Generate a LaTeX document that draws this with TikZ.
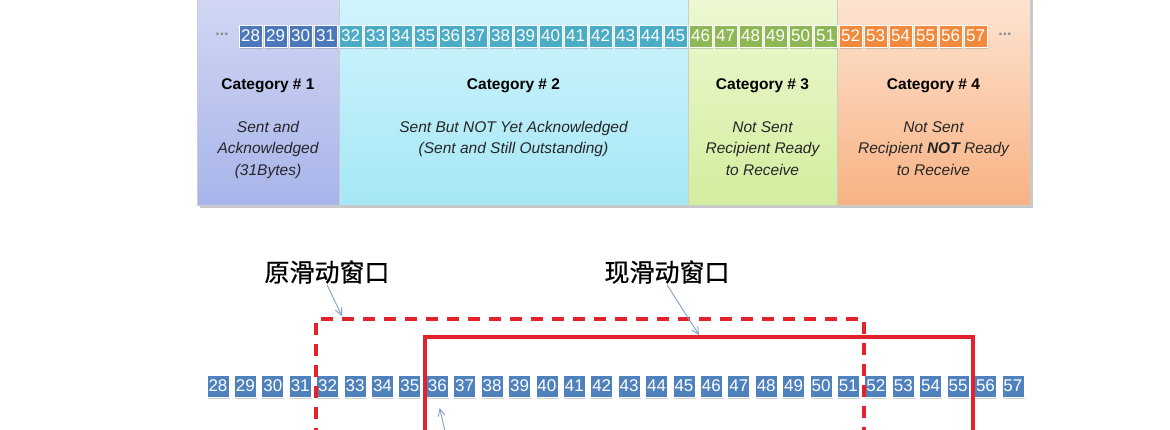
\documentclass[tikz,border=0pt]{standalone}
\usepackage{fontspec}
\setmainfont{Liberation Sans}
\newfontfamily\cjk[FakeBold=0.7]{Noto Sans CJK SC}
\usetikzlibrary{shadows,arrows.meta}

\definecolor{segA}{HTML}{4A78BA}
\definecolor{segB}{HTML}{4BACC6}
\definecolor{segC}{HTML}{8DB853}
\definecolor{segD}{HTML}{F28A3E}
\definecolor{segBottom}{HTML}{4F81BD}
\definecolor{winred}{HTML}{E3222B}
\definecolor{pointer}{HTML}{809FCF}
\definecolor{bandAtop}{HTML}{D3D8F4}
\definecolor{bandAbot}{HTML}{A8B4EA}
\definecolor{bandBtop}{HTML}{D2F5FC}
\definecolor{bandBbot}{HTML}{A6E7F6}
\definecolor{bandCtop}{HTML}{EEF9D4}
\definecolor{bandCbot}{HTML}{D3ED9E}
\definecolor{bandDtop}{HTML}{FDE6D5}
\definecolor{bandDbot}{HTML}{F8B283}

\tikzset{
  seg/.style={minimum width=23pt, minimum height=22pt, inner sep=0pt,
    draw=white, line width=0.8pt, text=white,
    font=\fontsize{17}{17}\selectfont,
    drop shadow={shadow xshift=0.6pt, shadow yshift=-2pt, opacity=0.35}},
  band/.style={draw=black!20, line width=0.5pt},
  catlabel/.style={font=\bfseries\fontsize{15.5}{16}\selectfont, inner sep=0pt},
  catnote/.style={font=\itshape\fontsize{15.5}{21.5}\selectfont, align=center,
    anchor=north, inner sep=0pt, text=black!85},
  dots/.style={text=black!45, font=\bfseries\fontsize{16}{16}\selectfont, inner sep=0pt},
  winlabel/.style={font=\cjk\fontsize{25}{25}\selectfont, inner sep=1pt},
  oldwin/.style={winred, line width=3.4pt, dash pattern=on 12pt off 9pt},
  newwin/.style={winred, line width=3.4pt},
  ptr/.style={pointer, line width=0.9pt, -{Straight Barb[length=7pt,width=7pt]}}
}

\begin{document}
\begin{tikzpicture}[x=1pt,y=-1pt]
\useasboundingbox (0,0) rectangle (1170,429);

\fill[black!22] (200,-10) rectangle (1033,208);
\fill[band, top color=bandAtop, bottom color=bandAbot] (197,-10) rectangle (339,205);
\fill[band, top color=bandBtop, bottom color=bandBbot] (339,-10) rectangle (688,205);
\fill[band, top color=bandCtop, bottom color=bandCbot] (688,-10) rectangle (837,205);
\fill[band, top color=bandDtop, bottom color=bandDbot] (837,-10) rectangle (1030,205);

\node[dots] (ldots) at (222,34) {...};
\node[dots] (rdots) at (1005,34) {...};
\foreach \n in {28,...,57}{
  \ifnum\n<32 \def\segcol{segA}\else
  \ifnum\n<46 \def\segcol{segB}\else
  \ifnum\n<52 \def\segcol{segC}\else \def\segcol{segD}\fi\fi\fi
  \node[seg, fill=\segcol] (t\n) at ({250.5+(\n-28)*25},36) {\n};
}

\node[catlabel] (cat1) at (268,86) {Category \# 1};
\node[catlabel] (cat2) at (513.5,86) {Category \# 2};
\node[catlabel] (cat3) at (762.5,86) {Category \# 3};
\node[catlabel] (cat4) at (933.5,86) {Category \# 4};

\node[catnote] (note1) at (268,121) {Sent and\\Acknowledged\\(31Bytes)};
\node[catnote] (note2) at (513.5,121) {Sent But NOT Yet Acknowledged\\(Sent and Still Outstanding)};
\node[catnote] (note3) at (762.5,121) {Not Sent\\Recipient Ready\\to Receive};
\node[catnote] (note4) at (933.5,121) {Not Sent\\Recipient \textbf{NOT} Ready\\to Receive};

\foreach \n in {28,...,57}
  \node[seg, minimum width=22pt, fill=segBottom] (b\n) at ({218+(\n-28)*27.41},386) {\n};

\draw[oldwin] (316,440) -- (316,319) -- (864,319) -- (864,440);
\draw[newwin] (425,440) -- (425,337) -- (973,337) -- (973,440);

\node[winlabel] (old) at (327,272) {原滑动窗口};
\node[winlabel] (new) at (667,272) {现滑动窗口};
\coordinate (oldtip) at (342,316);
\coordinate (newtip) at (699,335);
\coordinate (curfoot) at (446,436);
\draw[ptr] (old.south) -- (oldtip);
\draw[ptr] (new.south) -- (newtip);
\draw[ptr, shorten >=11pt] (curfoot) -- (b36.south);
\end{tikzpicture}
\end{document}
